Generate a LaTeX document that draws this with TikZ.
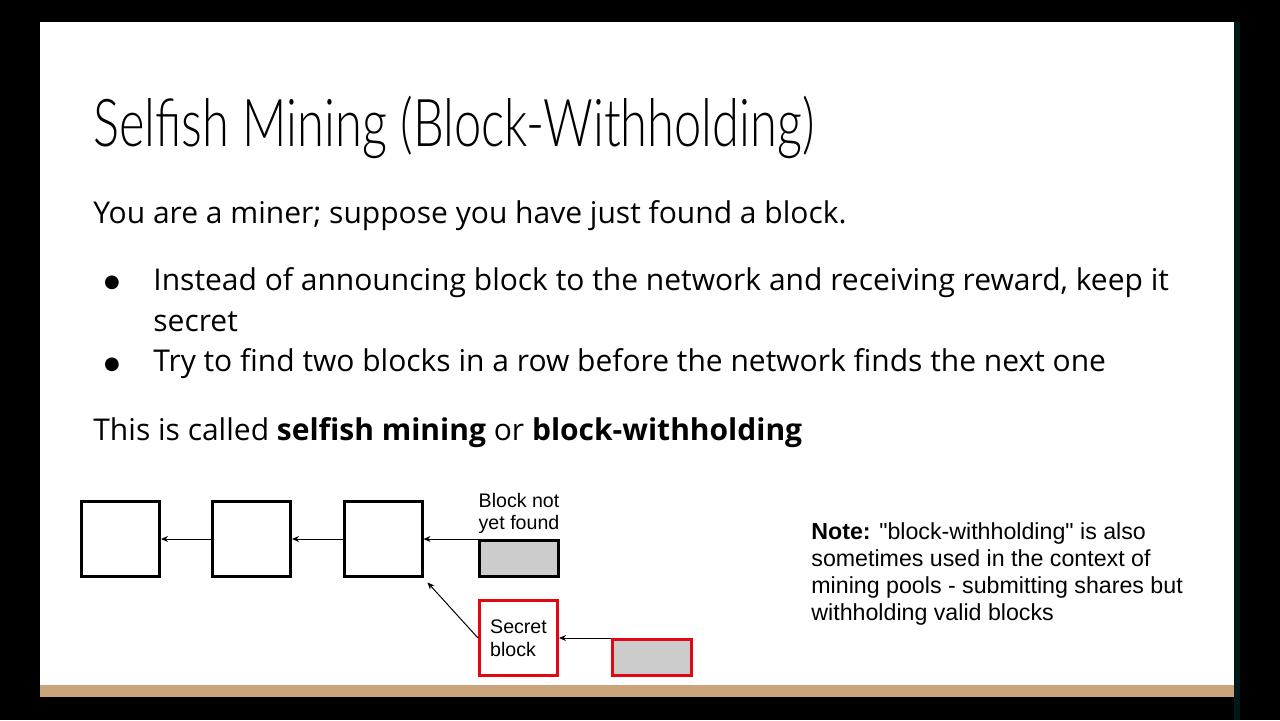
\documentclass[tikz,border=0pt]{standalone}
\usepackage{fontspec}
\setmainfont{Open Sans}
\newfontfamily\titlefont[FakeStretch=0.74]{Lato Light}
\newfontfamily\arialfont{Liberation Sans}
\newfontfamily\dotfont{DejaVu Sans}
\usetikzlibrary{arrows.meta,positioning}

\definecolor{slidetan}{HTML}{C9A47B}
\definecolor{secretred}{HTML}{E30613}
\definecolor{pendgray}{HTML}{CCCCCC}

\tikzset{
  block/.style={draw,line width=1.5pt,minimum width=39pt,minimum height=37.5pt,inner sep=0pt},
  pending/.style={draw,line width=1.5pt,fill=pendgray,minimum width=39.5pt,minimum height=18pt,inner sep=0pt},
  secretbox/.style={block,draw=secretred},
  link/.style={-{Stealth[length=3.5pt,width=3pt]},line width=0.5pt},
  bodytext/.style={anchor=base west,inner sep=0pt,font=\fontsize{15pt}{20.5pt}\selectfont},
  bulletdot/.style={inner sep=0pt,font=\dotfont\fontsize{9pt}{9pt}\selectfont},
  smalltext/.style={inner sep=0pt,align=left,font=\arialfont\fontsize{9.8pt}{11pt}\selectfont}
}

\begin{document}
\begin{tikzpicture}[x=0.5pt,y=-0.5pt]
% slide frame
\fill[black] (0,0) rectangle (1280,720);
\fill[white] (40,22) rectangle (1234,685);
\fill[slidetan] (40,685) rectangle (1234,697);
\fill[black!80!teal] (1234,22) rectangle (1240,720);

% title and text
\node[anchor=base west,inner sep=0pt,font=\titlefont\fontsize{33pt}{33pt}\selectfont] (title) at (93,146) {Selfish Mining (Block-Withholding)};
\node[bodytext] (intro) at (93,223) {You are a miner; suppose you have just found a block.};
\node[bulletdot] (dot1) at (112,283) {●};
\node[bodytext,align=left] (item1) at (153,331) {Instead of announcing block to the network and receiving reward, keep it\\secret};
\node[bulletdot] (dot2) at (112,365) {●};
\node[bodytext] (item2) at (153,371) {Try to find two blocks in a row before the network finds the next one};
\node[bodytext] (called) at (93,440) {This is called \textbf{selfish mining} or \textbf{block-withholding}};

% chain
\node[block] (b1) at (120.5,539) {};
\node[block] (b2) at (251.5,539) {};
\node[block] (b3) at (383,539) {};
\node[pending] (next) at (519,558.5) {};
\node[smalltext,align=center,above=2.5pt of next] (notyet) {Block not\\yet found};
\node[secretbox,smalltext,align=left,font=\arialfont\fontsize{9.8pt}{11.5pt}\selectfont] (secret) at (518.5,638) {Secret\\block};
\node[pending,draw=secretred] (hidden) at (651.5,657.5) {};

\draw[link] (b2.west) -- (b1.east);
\draw[link] (b3.west) -- (b2.east);
\draw[link] (next.north west) -- (b3.east);
\draw[link] (hidden.north west) -- (secret.east);
\draw[link,shorten >=3pt] (secret.west) -- (b3.south east);

% note
\node[anchor=base west,inner sep=0pt,align=left,font=\arialfont\fontsize{11.6pt}{13.5pt}\selectfont] (note) at (811,620)
  {\textbf{Note:} "block-withholding" is also\\sometimes used in the context of\\mining pools - submitting shares but\\withholding valid blocks};
\end{tikzpicture}
\end{document}
